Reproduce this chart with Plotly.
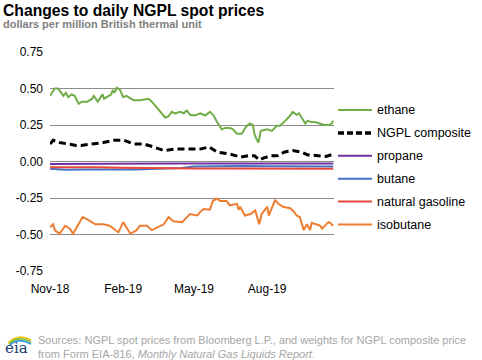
import plotly.graph_objects as go

# ---------------- data ----------------
ethane_dates = ["2018-11-01","2018-11-07","2018-11-11","2018-11-18","2018-11-21","2018-11-24","2018-11-28",
    "2018-12-02","2018-12-07","2018-12-11","2018-12-18","2018-12-24","2018-12-26","2018-12-31",
    "2019-01-06","2019-01-08","2019-01-17","2019-01-19","2019-01-21","2019-01-24","2019-01-28",
    "2019-02-01","2019-02-05","2019-02-10","2019-02-14","2019-02-22","2019-03-05","2019-03-09",
    "2019-03-15","2019-03-26","2019-03-30","2019-04-03","2019-04-07","2019-04-14","2019-04-18",
    "2019-04-22","2019-04-26","2019-05-02","2019-05-09","2019-05-15","2019-05-21","2019-05-25",
    "2019-05-30","2019-06-05","2019-06-09","2019-06-15","2019-06-19","2019-06-24","2019-06-30",
    "2019-07-05","2019-07-10","2019-07-14","2019-07-16","2019-07-18","2019-07-21","2019-07-24",
    "2019-08-01","2019-08-07","2019-08-13","2019-08-17","2019-08-24","2019-08-30","2019-09-02",
    "2019-09-07","2019-09-10","2019-09-18","2019-09-21","2019-09-25","2019-09-30","2019-10-06",
    "2019-10-12","2019-10-18","2019-10-21","2019-10-23"]
ethane = [0.45,0.50,0.50,0.45,0.47,0.44,0.46,
    0.45,0.395,0.41,0.41,0.43,0.45,0.41,
    0.46,0.43,0.46,0.49,0.47,0.505,0.49,
    0.44,0.45,0.43,0.42,0.42,0.43,0.41,
    0.37,0.30,0.31,0.34,0.33,0.34,0.33,
    0.35,0.32,0.315,0.33,0.315,0.34,0.32,
    0.27,0.22,0.23,0.23,0.22,0.19,0.19,
    0.235,0.26,0.25,0.19,0.16,0.13,0.21,
    0.22,0.21,0.245,0.245,0.28,0.315,0.34,
    0.32,0.33,0.26,0.28,0.27,0.27,0.26,
    0.25,0.25,0.26,0.28]

composite_dates = ["2018-11-01","2018-11-05","2018-11-13","2018-11-22","2018-12-04","2018-12-10","2018-12-25",
    "2019-01-02","2019-01-07","2019-01-20","2019-02-02","2019-02-14","2019-02-27","2019-03-11",
    "2019-03-24","2019-04-06","2019-04-23","2019-05-09","2019-05-20","2019-05-30","2019-06-16",
    "2019-06-29","2019-07-09","2019-07-16","2019-07-22","2019-07-28","2019-08-06","2019-08-14",
    "2019-08-23","2019-09-02","2019-09-13","2019-09-21","2019-10-04","2019-10-14","2019-10-23"]
composite = [0.12,0.145,0.13,0.12,0.11,0.11,0.12,
    0.13,0.13,0.145,0.145,0.12,0.12,0.10,
    0.075,0.085,0.085,0.085,0.10,0.065,0.05,
    0.03,0.04,0.04,0.01,0.025,0.04,0.04,
    0.065,0.075,0.065,0.045,0.04,0.035,0.05]

propane_dates = ["2018-11-01","2018-12-15","2019-02-01","2019-04-01","2019-06-01","2019-08-01","2019-10-23"]
propane = [-0.017,-0.015,-0.014,-0.013,-0.013,-0.013,-0.013]

butane_dates = ["2018-11-01","2018-11-20","2018-12-15","2019-01-15","2019-02-15","2019-03-15","2019-04-15",
    "2019-05-01","2019-06-01","2019-07-01","2019-08-01","2019-09-01","2019-10-01","2019-10-23"]
butane = [-0.05,-0.057,-0.055,-0.057,-0.055,-0.05,-0.045,
    -0.035,-0.032,-0.03,-0.032,-0.033,-0.033,-0.035]

gasoline_dates = ["2018-11-01","2018-12-01","2019-01-01","2019-02-01","2019-03-01","2019-04-01","2019-05-01",
    "2019-06-01","2019-07-01","2019-08-01","2019-09-01","2019-10-01","2019-10-23"]
gasoline = [-0.04,-0.038,-0.04,-0.042,-0.045,-0.047,-0.048,
    -0.048,-0.049,-0.048,-0.049,-0.05,-0.05]

isobutane_dates = ["2018-11-01","2018-11-05","2018-11-07","2018-11-13","2018-11-20","2018-11-26","2018-11-30",
    "2018-12-07","2018-12-12","2018-12-19","2018-12-28","2019-01-07","2019-01-15","2019-01-26",
    "2019-02-01","2019-02-05","2019-02-10","2019-02-18","2019-02-22","2019-03-03","2019-03-09",
    "2019-03-24","2019-03-30","2019-04-05","2019-04-16","2019-04-26","2019-05-05","2019-05-09",
    "2019-05-13","2019-05-21","2019-05-25","2019-05-30","2019-06-03","2019-06-11","2019-06-15",
    "2019-06-24","2019-06-26","2019-06-28","2019-07-04","2019-07-11","2019-07-17","2019-07-22",
    "2019-07-25","2019-08-01","2019-08-03","2019-08-09","2019-08-11","2019-08-15","2019-08-21",
    "2019-08-30","2019-09-03","2019-09-07","2019-09-11","2019-09-16","2019-09-20","2019-09-24",
    "2019-09-26","2019-10-07","2019-10-09","2019-10-17","2019-10-19","2019-10-23"]
isobutane = [-0.45,-0.43,-0.47,-0.495,-0.44,-0.46,-0.495,
    -0.43,-0.38,-0.40,-0.43,-0.43,-0.44,-0.485,
    -0.415,-0.45,-0.495,-0.47,-0.44,-0.44,-0.47,
    -0.43,-0.38,-0.41,-0.415,-0.36,-0.37,-0.345,
    -0.325,-0.33,-0.267,-0.255,-0.27,-0.27,-0.30,
    -0.29,-0.33,-0.31,-0.37,-0.36,-0.335,-0.43,
    -0.36,-0.31,-0.37,-0.29,-0.262,-0.29,-0.31,
    -0.32,-0.34,-0.37,-0.38,-0.47,-0.43,-0.47,
    -0.42,-0.44,-0.46,-0.415,-0.42,-0.44]

y_tick_vals = [0.75, 0.50, 0.25, 0.00, -0.25, -0.50, -0.75]
y_tick_text = ["0.75", "0.50", "0.25", "0.00", "-0.25", "-0.50", "-0.75"]
x_tick_vals = ["2018-11-01", "2019-02-01", "2019-05-01", "2019-08-01"]
x_tick_text = ["Nov-18", "Feb-19", "May-19", "Aug-19"]

FONT = "Liberation Sans, Arial, sans-serif"

series = [
    ("ethane", ethane_dates, ethane, "#70AD47", 2, "solid"),
    ("NGPL composite", composite_dates, composite, "#000000", 3, "7px,4px"),
    ("propane", propane_dates, propane, "#7030A0", 2, "solid"),
    ("butane", butane_dates, butane, "#4472C4", 2, "solid"),
    ("natural gasoline", gasoline_dates, gasoline, "#E8483B", 2, "solid"),
    ("isobutane", isobutane_dates, isobutane, "#ED7D31", 2, "solid"),
]

fig = go.Figure()
for i, (name, d, v, c, w, dash) in enumerate(series):
    fig.add_trace(go.Scatter(x=d, y=v, name=name, mode="lines",
                             line=dict(color=c, width=w, dash=dash),
                             showlegend=False, hoverinfo="skip"))

# plot area: x 50..334 px, y 52..271 px
L, T, B = 50, 52, 89
W, H = 482, 360
PW, PH = 334 - L, 271 - T

def px(xp):
    return (xp - L) / PW

def py(yp):
    return (271 - yp) / PH

annotations = [
    dict(text="<b>Changes to daily NGPL spot prices</b>", xref="paper", yref="paper",
         x=px(1), y=py(0), xanchor="left", yanchor="top", showarrow=False,
         font=dict(family=FONT, size=15.7, color="#000000")),
    dict(text="<b>dollars per million British thermal unit</b>", xref="paper", yref="paper",
         x=px(1), y=py(16), xanchor="left", yanchor="top", showarrow=False,
         font=dict(family=FONT, size=11, color="#7f7f7f")),
    dict(text="Sources: NGPL spot prices from Bloomberg L.P., and weights for NGPL composite price<br>"
              "from Form EIA-816, <i>Monthly Natural Gas Liquids Report</i>.",
         xref="paper", yref="paper", x=px(36), y=py(332), xanchor="left", yanchor="top",
         align="left", showarrow=False,
         font=dict(family=FONT, size=11, color="#a6a6a6")),
    dict(text="eia", xref="paper", yref="paper", x=px(3), y=py(337), xanchor="left", yanchor="top",
         showarrow=False, font=dict(family="DejaVu Serif, serif", size=15, color="#1f3c6e")),
]

shapes = []
# legend drawn at the right of the plot
for i, (name, d, v, c, w, dash) in enumerate(series):
    ly = 110 + 22.9 * i
    shapes.append(dict(type="line", xref="paper", yref="paper",
                       x0=px(338), x1=px(372), y0=py(ly), y1=py(ly),
                       line=dict(color=c, width=w + (0.5 if dash != "solid" else 0),
                                 dash="6px,3px" if dash != "solid" else "solid")))
    annotations.append(dict(text=name, xref="paper", yref="paper", x=px(375), y=py(ly),
                            xanchor="left", yanchor="middle", showarrow=False,
                            font=dict(family=FONT, size=12.5, color="#000000")))

# zero-line tick marks
for tv in x_tick_vals[1:]:
    shapes.append(dict(type="line", xref="x", yref="y", x0=tv, x1=tv, y0=0, y1=-0.02,
                       line=dict(color="#8c8c8c", width=1)))
# EIA logo arcs
arc_cols = ["#f4c20d", "#7cc242", "#2a8fd6"]
for k, c in enumerate(arc_cols):
    shapes.append(dict(type="path", xref="paper", yref="paper",
                       path=f"M {px(8 + k)},{py(343 + k)} Q {px(18)},{py(333 + k * 2)} {px(31)},{py(340 + k * 2)}",
                       line=dict(color=c, width=1.6)))

fig.update_layout(
    width=W, height=H,
    margin=dict(l=L, r=W - 334, t=T, b=B, pad=0),
    paper_bgcolor="white", plot_bgcolor="white",
    font=dict(family=FONT, size=12, color="#000000"),
    showlegend=False,
    xaxis=dict(type="date", range=["2018-11-01", "2019-10-24"],
               tickvals=x_tick_vals, ticktext=x_tick_text,
               showgrid=False, zeroline=False, showline=False,
               ticks="", ticklabelstandoff=9, tickfont=dict(size=12)),
    yaxis=dict(range=[-0.75, 0.75], tickvals=y_tick_vals, ticktext=y_tick_text,
               showgrid=True, gridcolor="#8c8c8c", gridwidth=1,
               zeroline=False, showline=False, ticks="",
               ticklabelstandoff=6, tickfont=dict(size=12)),
    annotations=annotations,
    shapes=shapes,
)

fig.write_html("out.html", config={"displayModeBar": False},
               post_script="document.body.style.margin='0';document.body.style.overflow='hidden';")
